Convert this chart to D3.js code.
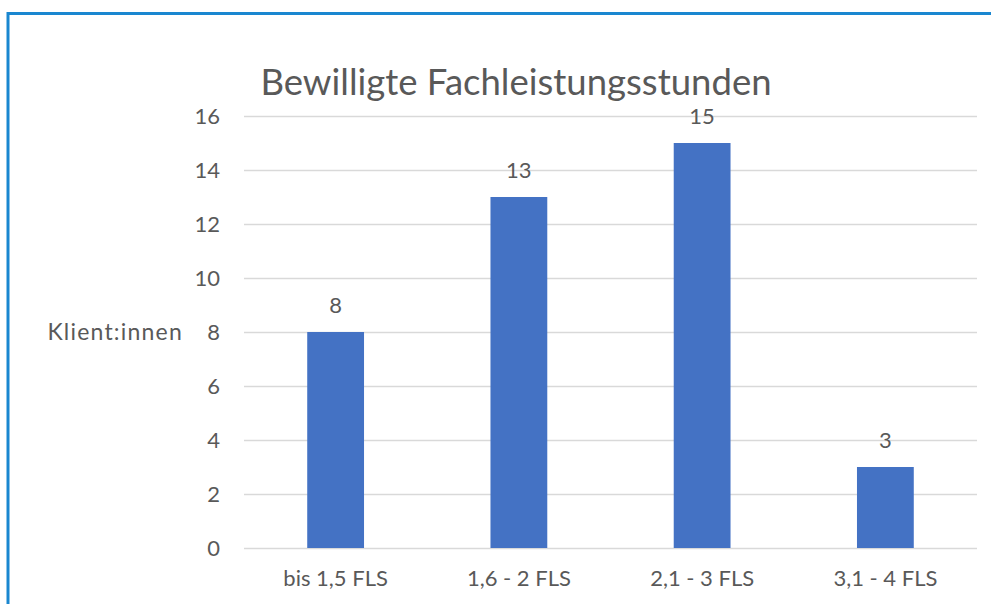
<!DOCTYPE html>
<html>
<head>
<meta charset="utf-8">
<script src="https://cdn.jsdelivr.net/npm/d3@7"></script>
<style>
  body { margin: 0; background: #fff; }
  svg { display: block; }
  text { font-family: Lato, "Open Sans", sans-serif; fill: #595959; }
</style>
</head>
<body>
<svg id="chart" width="991" height="604"></svg>
<script>
let categories = ["bis 1,5 FLS", "1,6 - 2 FLS", "2,1 - 3 FLS", "3,1 - 4 FLS"];
let values = [8, 13, 15, 3];
let yTicks = [0, 2, 4, 6, 8, 10, 12, 14, 16];
let title = "Bewilligte Fachleistungsstunden";
let yTitle = "Klient:innen";

let margins = { top: 116, right: 14, bottom: 56, left: 244 };
let width = 991 - margins.left - margins.right;
let height = 604 - margins.top - margins.bottom;

let svg = d3.select("#chart");

// frame lines (top + left only, picture is cropped)
svg.append("line")
  .attr("x1", 8).attr("x2", 991).attr("y1", 13.5).attr("y2", 13.5)
  .style("stroke", "#1a87d0").style("stroke-width", 3);
svg.append("line")
  .attr("x1", 8).attr("x2", 8).attr("y1", 12).attr("y2", 604)
  .style("stroke", "#1a87d0").style("stroke-width", 3);

let xScale = d3.scaleBand().domain(categories).range([0, width])
  .paddingInner(0.69).paddingOuter(0.345);
let yScale = d3.scaleLinear().domain([0, 16]).range([height, 0]);

let graph = svg.append("g")
  .attr("transform", "translate(" + margins.left + "," + margins.top + ")");

// horizontal grid
let yAxisGrid = d3.axisLeft(yScale).tickValues(yTicks).tickSize(-width).tickFormat("");
graph.append("g")
  .attr("class", "grid")
  .call(yAxisGrid)
  .call(g => g.select(".domain").remove())
  .call(g => g.selectAll("line").style("stroke", "#d9d9d9").style("stroke-width", 1.3));

// y labels
let yAxis = d3.axisLeft(yScale).tickValues(yTicks).tickSize(0).tickPadding(24);
graph.append("g")
  .call(yAxis)
  .call(g => g.select(".domain").remove())
  .call(g => g.selectAll("text")
    .style("font-size", "22px").style("font-family", "Lato, sans-serif").style("fill", "#595959"));

// bars
graph.selectAll(".bar")
  .data(values)
  .enter().append("rect")
  .attr("class", "bar")
  .attr("x", (d, i) => xScale(categories[i]))
  .attr("width", xScale.bandwidth())
  .attr("y", d => yScale(d))
  .attr("height", d => height - yScale(d))
  .style("fill", "#4472c4");

// data labels
graph.selectAll(".label")
  .data(values)
  .enter().append("text")
  .attr("class", "label")
  .attr("x", (d, i) => xScale(categories[i]) + xScale.bandwidth() / 2)
  .attr("y", d => yScale(d) - 19)
  .attr("text-anchor", "middle")
  .style("font-size", "22px")
  .text(d => d);

// x axis labels
let xAxis = d3.axisBottom(xScale).tickSize(0).tickPadding(22);
graph.append("g")
  .attr("transform", "translate(0," + height + ")")
  .call(xAxis)
  .call(g => g.select(".domain").remove())
  .call(g => g.selectAll("text")
    .style("font-size", "22px").style("font-family", "Lato, sans-serif").style("fill", "#595959"));

// title
svg.append("text")
  .attr("x", 516).attr("y", 95)
  .attr("text-anchor", "middle")
  .style("font-size", "36.5px")
  .text(title);

// y axis title
svg.append("text")
  .attr("x", 183).attr("y", margins.top + yScale(8) + 8)
  .attr("text-anchor", "end")
  .style("font-size", "23px")
  .style("letter-spacing", "1.2px")
  .text(yTitle);
</script>
</body>
</html>
